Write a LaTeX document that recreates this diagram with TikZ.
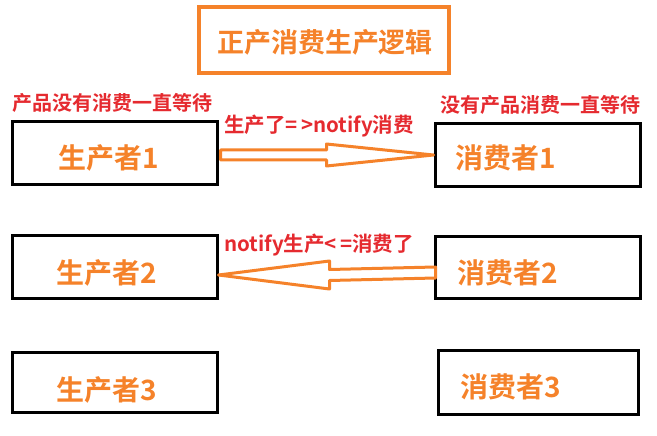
\documentclass[tikz,border=0pt]{standalone}
\usepackage{fontspec}
\newfontfamily\cjk{Noto Sans CJK SC Bold}
\usetikzlibrary{calc}
\definecolor{myorange}{HTML}{F5822A}
\definecolor{myred}{HTML}{E52A2F}
\begin{document}
\begin{tikzpicture}[x=1pt,y=-1pt,
  box/.style={draw=black,line width=3pt,minimum width=205pt,minimum height=62pt,inner sep=0pt},
  boxtext/.style={font=\cjk\fontsize{28}{32}\selectfont,text=myorange,inner sep=0pt},
  redlabel/.style={font=\cjk\fontsize{20}{24}\selectfont,text=myred,inner sep=0pt},
  arrowlabel/.style={font=\cjk\fontsize{20.5}{24}\selectfont,text=myred,inner sep=0pt},
  arrowline/.style={draw=myorange,line width=3pt,line join=round}]
\useasboundingbox (0,0) rectangle (657,436);
% title
\node[draw=myorange,line width=4pt,minimum width=250pt,minimum height=66pt] (title) at (324,40) {};
\node[font=\cjk\fontsize{27}{30}\selectfont,text=myorange,inner sep=0pt] (titletext) at (325,42) {正产消费生产逻辑};
% boxes
\node[box] (p1) at (114.5,153) {};
\node[box] (c1) at (537.5,155) {};
\node[box,minimum height=63pt] (p2) at (114.5,266.5) {};
\node[box] (c2) at (537.5,267.5) {};
\node[box,minimum height=60pt] (p3) at (114.5,382) {};
\node[box,minimum width=200pt,minimum height=64pt] (c3) at (538,382) {};
% box texts
\node[boxtext] (tp1) at (108.5,158) {生产者1};
\node[boxtext] (tc1) at (505.5,158) {消费者1};
\node[boxtext] (tp2) at (106.5,273) {生产者2};
\node[boxtext] (tc2) at (507.5,273) {消费者2};
\node[boxtext] (tp3) at (106.5,390) {生产者3};
\node[boxtext] (tc3) at (510.5,387) {消费者3};
% red labels
\node[redlabel] (lp) at (112.5,103) {产品没有消费一直等待};
\node[redlabel] (lc) at (540,105) {没有产品消费一直等待};
\node[arrowlabel] (la1) at (319,126) {生产了=\,>notify消费};
\node[arrowlabel] (la2) at (319,245) {notify生产<\,=消费了};
% arrow 1 (hollow, left to right)
\coordinate (a1tail) at ($(p1.east)+(2,2)$);
\coordinate (a1tip) at (c1.west);
\draw[arrowline] let \p1=(a1tail), \p2=(a1tip) in
  (\x1,\y1+5) -- (\x2-107,\y2+5) -- (\x2-107,\y2+11) -- (\p2)
  -- (\x2-107,\y2-11) -- (\x2-107,\y2-5) -- (\x1,\y1-5) -- cycle;
% arrow 2 (hollow, right to left)
\coordinate (a2tail) at ($(c2.west)+(2,5)$);
\coordinate (a2tip) at ($(p2.east)+(0,8.5)$);
\draw[arrowline] let \p1=(a2tail), \p2=(a2tip) in
  (\x1,\y1+5.5) -- (\x2+111,\y2+5.5) -- (\x2+111,\y2+14) -- (\p2)
  -- (\x2+111,\y2-14) -- (\x2+111,\y2-5.5) -- (\x1,\y1-5.5) -- cycle;
\end{tikzpicture}
\end{document}
